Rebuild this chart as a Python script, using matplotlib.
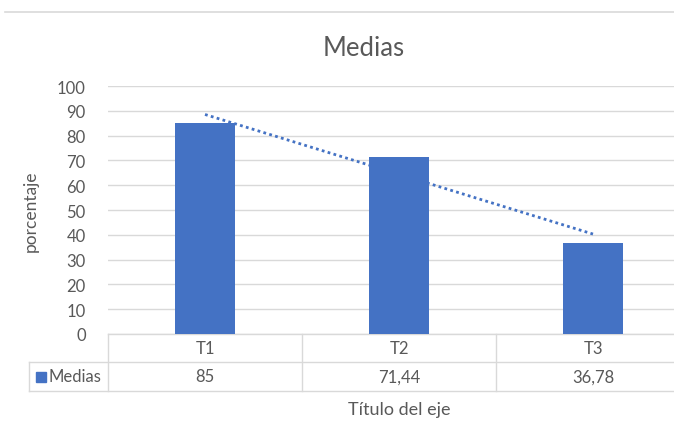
import numpy as np
import matplotlib.pyplot as plt
from matplotlib.lines import Line2D
from matplotlib.transforms import blended_transform_factory

categories = ["T1", "T2", "T3"]
medias = [85, 71.44, 36.78]
medias_txt = ["85", "71,44", "36,78"]
yticks = list(range(0, 101, 10))

plt.rcParams['font.family'] = ['Lato', 'DejaVu Sans']
txt_color = "#595959"
grid_color = "#D9D9D9"
bar_color = "#4472C4"

W, H = 674, 439
fig = plt.figure(figsize=(W / 100, H / 100), dpi=100)

# axes run past the right edge, like the cropped screenshot
left, right, top, bottom = 108, 690, 87, 335
ax = fig.add_axes([left / W, 1 - bottom / H, (right - left) / W, (bottom - top) / H])

x = np.arange(len(categories))
ax.bar(x, medias, width=0.31, color=bar_color, zorder=3)

# linear trendline
coef = np.polyfit(x, medias, 1)
ax.plot(x, np.polyval(coef, x), linestyle=(0, (1, 1.2)), color=bar_color, lw=2, zorder=4)

ax.set_xlim(-0.5, len(categories) - 0.5)
ax.set_ylim(0, 100)
ax.set_yticks(yticks)
ax.set_xticks([])
ax.yaxis.grid(True, color=grid_color, lw=1)
ax.set_axisbelow(True)
for s in ax.spines.values():
    s.set_visible(False)
ax.tick_params(axis="y", length=0, pad=16, labelsize=12, labelcolor=txt_color)
ax.set_ylabel("porcentaje", fontsize=12.5, color=txt_color)
ax.yaxis.set_label_coords((39 - left) / (right - left), 0.5)

# data table under the axis
tr = blended_transform_factory(ax.transData, ax.transAxes)
r1 = -28 / (bottom - top)
r2 = -57 / (bottom - top)
lx = (29 - left) / (right - left)
kw = dict(color=grid_color, lw=1, clip_on=False)
ax.plot([0, 1], [0, 0], transform=ax.transAxes, **kw)
ax.plot([lx, 1], [r1, r1], transform=ax.transAxes, **kw)
ax.plot([lx, 1], [r2, r2], transform=ax.transAxes, **kw)
ax.plot([lx, lx], [r1, r2], transform=ax.transAxes, **kw)
for b in np.arange(len(categories)) - 0.5:
    ax.plot([b, b], [0, r2], transform=tr, **kw)
for i, (c, v) in enumerate(zip(categories, medias_txt)):
    ax.text(i, r1 / 2, c, transform=tr, ha="center", va="center", fontsize=12, color=txt_color)
    ax.text(i, (r1 + r2) / 2, v, transform=tr, ha="center", va="center", fontsize=12, color=txt_color)
ax.plot([(41 - left) / (right - left)], [(r1 + r2) / 2], marker="s", ms=7.5, color=bar_color,
        transform=ax.transAxes, clip_on=False)
ax.text((49 - left) / (right - left), (r1 + r2) / 2, "Medias", transform=ax.transAxes,
        ha="left", va="center", fontsize=12, color=txt_color)

fig.text(399 / W, 1 - 410 / H, "Título del eje", ha="center", va="center", fontsize=13, color=txt_color)
fig.text(364 / W, 1 - 48 / H, "Medias", ha="center", va="center", fontsize=18.5, color=txt_color)
fig.add_artist(Line2D([5 / W, 1], [1 - 13 / H, 1 - 13 / H], color=grid_color, lw=1.2))

fig.savefig("out.png", dpi=100)
